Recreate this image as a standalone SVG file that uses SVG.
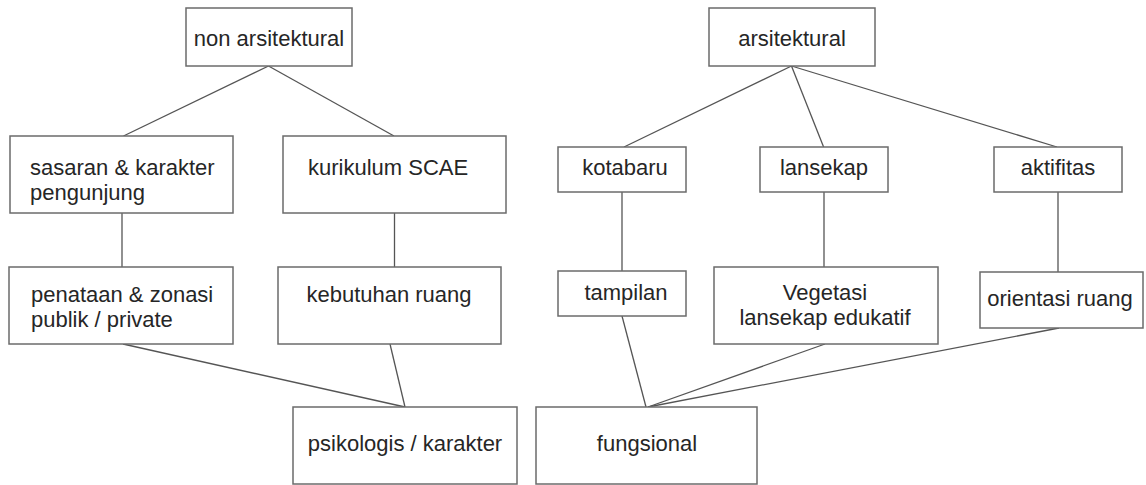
<svg xmlns="http://www.w3.org/2000/svg" width="1146" height="485" viewBox="0 0 1146 485">
<style>
.box{fill:#fff;stroke:#6b6b6b;stroke-width:1.5}
.lbl{font-family:"Liberation Sans",Arial,sans-serif;font-size:22px;fill:#262626}
.c{text-anchor:middle}
.con line{stroke:#555;stroke-width:1.3}
</style>
<rect width="1146" height="485" fill="#fff"/>
<g id="connectors" class="con">
<line x1="268.5" y1="66" x2="123.5" y2="136"/>
<line x1="268.5" y1="66" x2="394" y2="136"/>
<line x1="122" y1="213" x2="122" y2="267"/>
<line x1="394.5" y1="213" x2="394.5" y2="267"/>
<line x1="123" y1="344" x2="405" y2="407"/>
<line x1="390" y1="344" x2="405" y2="407"/>
<line x1="791.5" y1="66" x2="624" y2="147"/>
<line x1="791.5" y1="66" x2="823.6" y2="147"/>
<line x1="791.5" y1="66" x2="1057" y2="147"/>
<line x1="622" y1="192" x2="622" y2="271"/>
<line x1="824" y1="192" x2="824" y2="267"/>
<line x1="1058" y1="192" x2="1058" y2="272"/>
<line x1="622" y1="316" x2="646" y2="407"/>
<line x1="825" y1="344" x2="648" y2="407"/>
<line x1="1059" y1="328" x2="648" y2="407"/>
</g>
<g id="non-arsitektural"><rect class="box" x="186" y="8" width="166" height="58"/><text class="lbl c" x="269" y="46">non arsitektural</text></g>
<g id="sasaran"><rect class="box" x="10" y="136" width="223" height="77"/><text class="lbl" x="30" y="175">sasaran &amp; karakter</text><text class="lbl" x="30" y="200">pengunjung</text></g>
<g id="kurikulum"><rect class="box" x="283" y="136" width="223" height="77"/><text class="lbl" x="308" y="175">kurikulum SCAE</text></g>
<g id="penataan"><rect class="box" x="9" y="267" width="224" height="77"/><text class="lbl" x="31" y="302">penataan &amp; zonasi</text><text class="lbl" x="31" y="327">publik / private</text></g>
<g id="kebutuhan"><rect class="box" x="278" y="267" width="223" height="77"/><text class="lbl c" x="389" y="302">kebutuhan ruang</text></g>
<g id="psikologis"><rect class="box" x="293" y="407" width="224" height="77"/><text class="lbl c" x="405" y="451">psikologis / karakter</text></g>
<g id="arsitektural"><rect class="box" x="709" y="8" width="166" height="58"/><text class="lbl c" x="792" y="46">arsitektural</text></g>
<g id="kotabaru"><rect class="box" x="558" y="147" width="128" height="45"/><text class="lbl c" x="625" y="175">kotabaru</text></g>
<g id="lansekap"><rect class="box" x="760" y="147" width="128" height="45"/><text class="lbl c" x="824" y="175">lansekap</text></g>
<g id="aktifitas"><rect class="box" x="994" y="147" width="128" height="45"/><text class="lbl c" x="1058" y="175">aktifitas</text></g>
<g id="tampilan"><rect class="box" x="558" y="271" width="128" height="45"/><text class="lbl c" x="626" y="300">tampilan</text></g>
<g id="vegetasi"><rect class="box" x="714" y="267" width="224" height="77"/><text class="lbl c" x="825" y="300">Vegetasi</text><text class="lbl c" x="825" y="325">lansekap edukatif</text></g>
<g id="orientasi"><rect class="box" x="980" y="272" width="163" height="56"/><text class="lbl c" x="1060" y="306">orientasi ruang</text></g>
<g id="fungsional"><rect class="box" x="536" y="407" width="221" height="77"/><text class="lbl c" x="647" y="451">fungsional</text></g>
</svg>
